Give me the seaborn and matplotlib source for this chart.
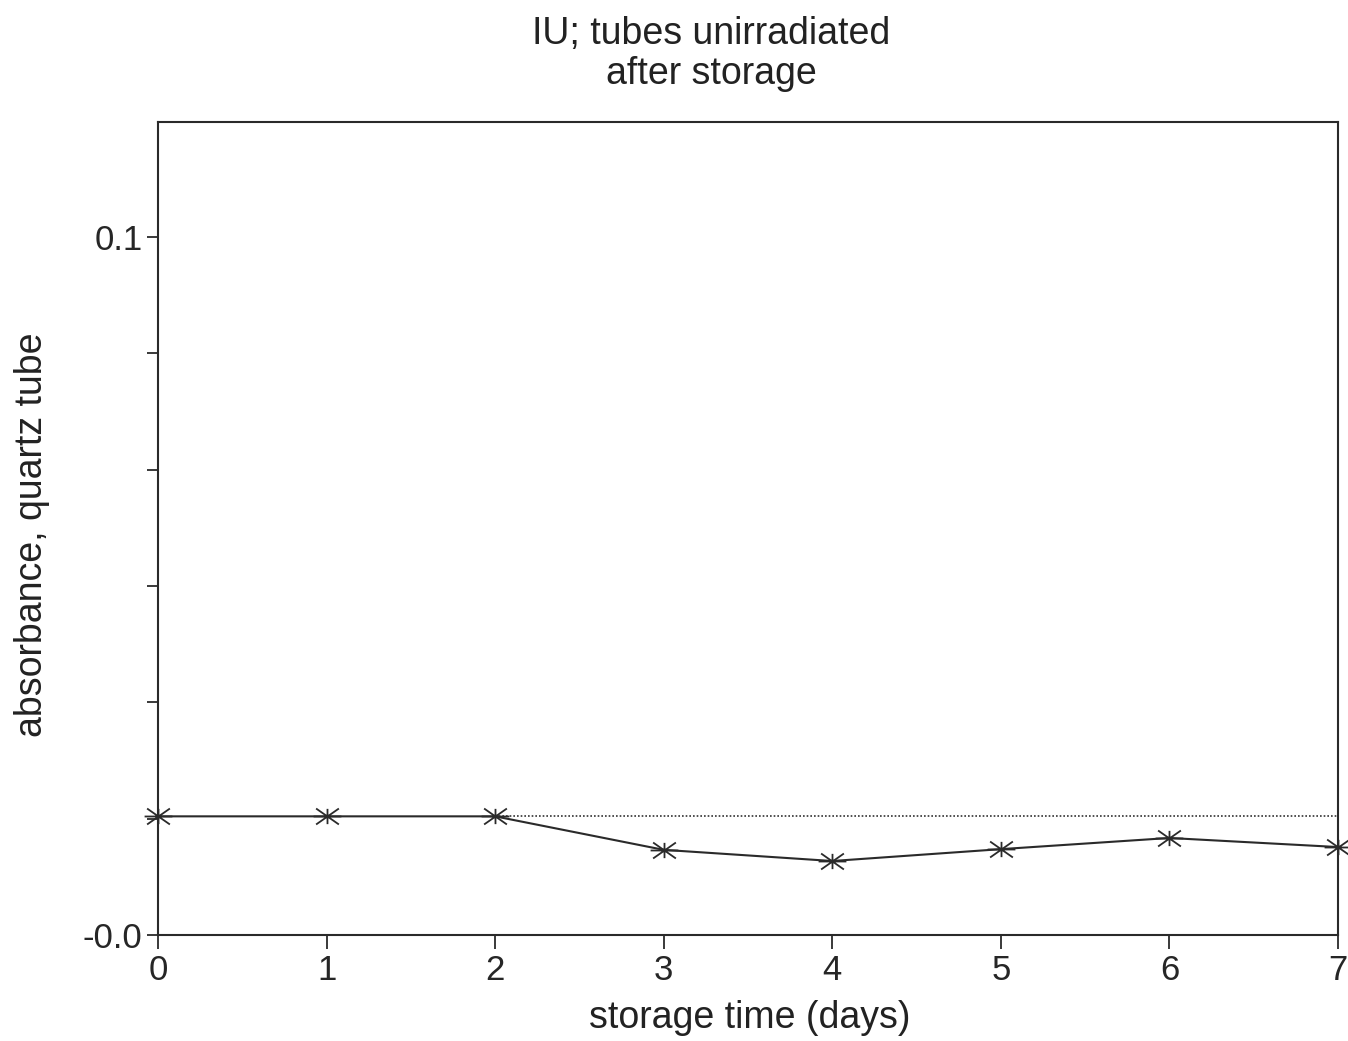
import matplotlib
matplotlib.use("Agg")
import matplotlib.pyplot as plt
from matplotlib.path import Path
import numpy as np
import seaborn as sns
import pandas as pd

# Storage series
days = [0, 1, 2, 3, 4, 5, 6, 7]
absorbance = [0.0170, 0.0170, 0.0170, 0.0122, 0.0106, 0.0123, 0.0139, 0.0126]

# Reference level (initial value) carried forward as a dotted line
ref_days = [2, 7]
ref_level = [absorbance[0], absorbance[0]]

y_ticks = [k * 0.1 / 6 for k in range(7)]
y_tick_labels = ["-0.0", "", "", "", "", "", "0.1"]
x_ticks = days
x_tick_labels = [str(d) for d in days]

# Asterisk-style marker: horizontal bar, two flat diagonals, short vertical
a = np.deg2rad(35)
ca, sa = np.cos(a), np.sin(a)
star_verts = [(-1, 0), (1, 0),
              (-ca, -sa), (ca, sa),
              (-ca, sa), (ca, -sa),
              (0, -0.55), (0, 0.55)]
star_codes = [Path.MOVETO, Path.LINETO] * 4
star = Path(star_verts, star_codes)

sns.set_theme(style="ticks")
plt.rcParams["font.family"] = ["Liberation Sans", "DejaVu Sans"]

fig = plt.figure(figsize=(13.48, 10.41), dpi=100)
ax = fig.add_axes([158 / 1348, 1 - 935 / 1041, (1338 - 158) / 1348, (935 - 122) / 1041])

df = pd.DataFrame({"day": days, "absorbance": absorbance})
ref = pd.DataFrame({"day": ref_days, "absorbance": ref_level})

sns.lineplot(data=ref, x="day", y="absorbance", ax=ax, color="#333333",
             linestyle=(0, (1, 1.2)), linewidth=1.2)
sns.lineplot(data=df, x="day", y="absorbance", ax=ax, color="#2a2a2a",
             linewidth=1.5, marker=star, markersize=20,
             markeredgecolor="#2a2a2a", markeredgewidth=1.3, clip_on=False)

ax.set_xlim(0, 7)
ax.set_ylim(0, (935 - 122) / 6980)
ax.set_xticks(x_ticks)
ax.set_xticklabels(x_tick_labels, fontsize=25)
ax.set_yticks(y_ticks)
ax.set_yticklabels(y_tick_labels, fontsize=25)
ax.tick_params(axis="x", direction="out", length=10, width=1.3, color="#2a2a2a", pad=4)
ax.tick_params(axis="y", direction="out", length=8, width=1.3, color="#2a2a2a", pad=3)

for s in ax.spines.values():
    s.set_linewidth(1.5)
    s.set_color("#2a2a2a")

ax.set_xlabel("")
ax.set_ylabel("")
fig.text(750 / 1348, 1 - 1018 / 1041, "storage time (days)", ha="center", va="center",
         fontsize=27, color="#222222")
fig.text(32 / 1348, 1 - 535 / 1041, "absorbance, quartz tube", ha="center", va="center",
         rotation=90, fontsize=27, color="#222222")
fig.text(711 / 1348, 1 - 54 / 1041, "IU; tubes unirradiated\nafter storage", ha="center",
         va="center", fontsize=27, color="#222222", linespacing=1.12)

fig.savefig("out.png", dpi=100, facecolor="white")
